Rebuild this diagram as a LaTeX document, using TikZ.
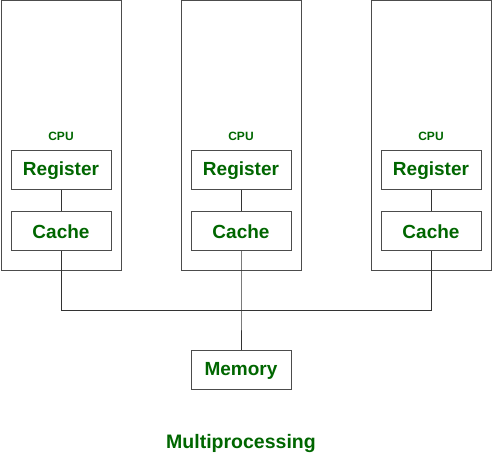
\documentclass[tikz,border=0pt]{standalone}
\usepackage{fontspec}
\setmainfont{Liberation Sans}
\usepackage{xcolor}
\usetikzlibrary{positioning}

\definecolor{labelgreen}{HTML}{006600}

\begin{document}
\begin{tikzpicture}[
  x=1pt, y=-1pt,
  cpubox/.style={
    draw=black!70, line width=1pt, minimum width=120pt, minimum height=270pt,
    inner sep=0pt
  },
  unit/.style={
    draw=black!70, line width=1pt, minimum width=100pt, minimum height=39pt,
    inner sep=0pt, text=labelgreen, font=\fontsize{19}{22}\selectfont\bfseries
  },
  tag/.style={text=labelgreen, font=\fontsize{12}{14}\selectfont\bfseries, inner sep=0pt},
  wire/.style={draw=black!80, line width=1pt}
]
\useasboundingbox (0,0) rectangle (493,454);

% CPU 1
\node[cpubox] (cpuA) at (61,136) {};
\node[unit] (regA) at (61,170.5) {Register};
\node[unit, below=21pt of regA] (cacheA) {Cache};
\node[tag, above=10pt of regA] (tagA) {CPU};

% CPU 2
\node[cpubox] (cpuB) at (241,136) {};
\node[unit] (regB) at (241,170.5) {Register};
\node[unit, below=21pt of regB] (cacheB) {Cache};
\node[tag, above=10pt of regB] (tagB) {CPU};

% CPU 3
\node[cpubox] (cpuC) at (431,136) {};
\node[unit] (regC) at (431,170.5) {Register};
\node[unit, below=21pt of regC] (cacheC) {Cache};
\node[tag, above=10pt of regC] (tagC) {CPU};

% Memory
\node[unit] (memory) at (241,370.5) {Memory};

% Caption
\node[text=labelgreen, font=\fontsize{19.5}{22}\selectfont\bfseries] (caption) at (241,444) {Multiprocessing};

% Register to cache links
\draw[wire] (regA) -- (cacheA);
\draw[wire] (regB) -- (cacheB);
\draw[wire] (regC) -- (cacheC);

% Shared bus
\coordinate (busA) at (61,311);
\coordinate (busB) at (241,311);
\coordinate (busC) at (431,311);
\draw[wire] (cacheA.south) -- (busA) -- (busC) -- (cacheC.south);
\draw[wire] (cacheB.south) -- (busB) -- (memory.north);

\end{tikzpicture}
\end{document}
